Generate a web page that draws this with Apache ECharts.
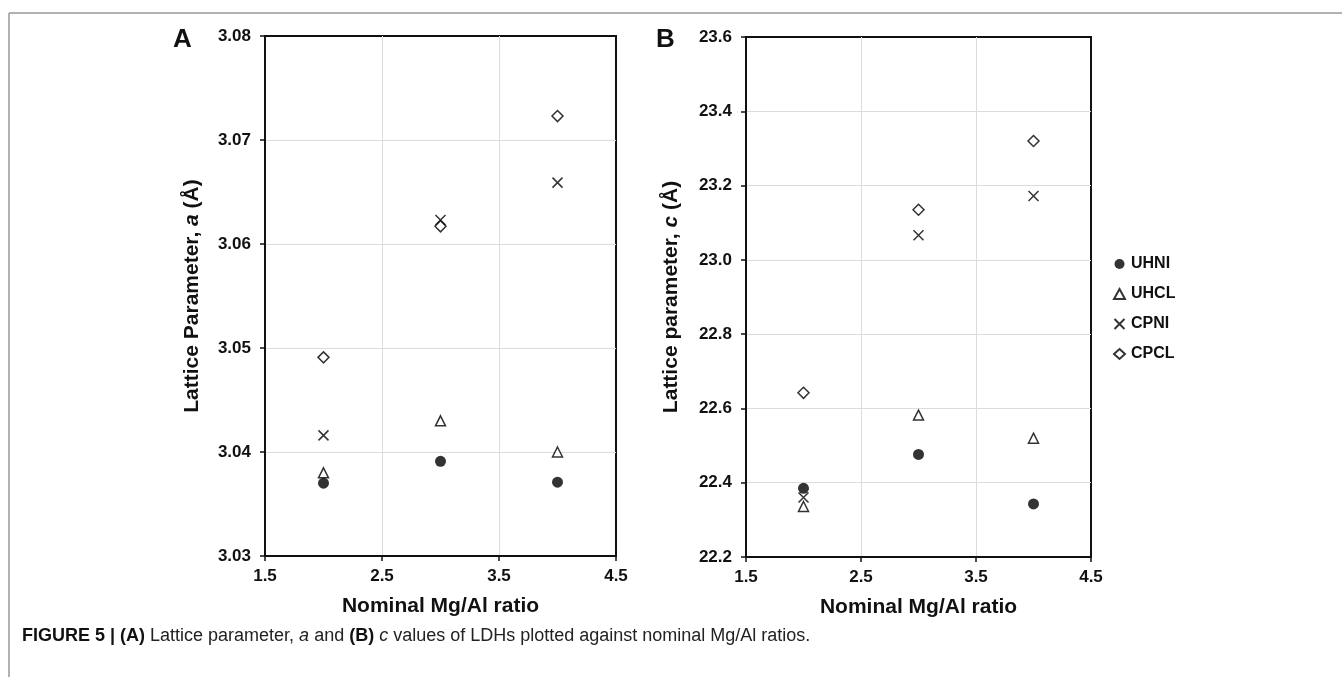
<!DOCTYPE html>
<html>
<head>
<meta charset="utf-8">
<title>Figure 5</title>
<script src="https://cdn.jsdelivr.net/npm/echarts@6/dist/echarts.min.js"></script>
<style>
  html, body { margin: 0; padding: 0; background: #fff; }
  #chart { width: 1342px; height: 677px; }
</style>
</head>
<body>
<div id="chart"></div>
<script>
  // Mg/Al ratios
  const ratios = [2, 3, 4]
  const seriesNames = ['UHNI', 'UHCL', 'CPNI', 'CPCL']

  // panel A: lattice parameter a (Å)
  const aUHNI = [3.0370, 3.0391, 3.0371]
  const aUHCL = [3.0380, 3.0430, 3.0400]
  const aCPNI = [3.0416, 3.0623, 3.0659]
  const aCPCL = [3.0491, 3.0617, 3.0723]

  // panel B: lattice parameter c (Å)
  const cUHNI = [22.385, 22.476, 22.343]
  const cUHCL = [22.336, 22.582, 22.520]
  const cCPNI = [22.360, 23.066, 23.172]
  const cCPCL = [22.642, 23.135, 23.320]

  const aTicks = ['3.03', '3.04', '3.05', '3.06', '3.07', '3.08']
  const cTicks = ['22.2', '22.4', '22.6', '22.8', '23.0', '23.2', '23.4', '23.6']
  const xTicks = ['1.5', '2.5', '3.5', '4.5']

  const FONT = '"Liberation Sans", Arial, sans-serif'
  const crossPath = 'path://M0,0 L10,10 M10,0 L0,10'

  const markers = {
    UHNI: { symbol: 'circle', symbolSize: 11, itemStyle: { color: '#000', borderWidth: 0 } },
    UHCL: { symbol: 'triangle', symbolSize: 10, itemStyle: { color: '#fff', borderColor: '#000', borderWidth: 1.5 } },
    CPNI: { symbol: crossPath, symbolSize: 10, itemStyle: { color: 'none', borderColor: '#000', borderWidth: 1.5 } },
    CPCL: { symbol: 'diamond', symbolSize: 11, itemStyle: { color: '#fff', borderColor: '#000', borderWidth: 1.5 } }
  }

  function pairs(values) {
    return ratios.map((r, i) => [r, values[i]])
  }

  function makeSeries(name, values, idx) {
    return Object.assign({
      name: name,
      type: 'scatter',
      xAxisIndex: idx,
      yAxisIndex: idx,
      data: pairs(values),
      z: 5
    }, markers[name])
  }

  function xAxisOf(idx) {
    return {
      gridIndex: idx,
      type: 'value',
      min: Number(xTicks[0]),
      max: Number(xTicks[xTicks.length - 1]),
      interval: 1,
      name: 'Nominal Mg/Al ratio',
      nameLocation: 'middle',
      nameGap: 40,
      nameTextStyle: { fontFamily: FONT, fontWeight: 'bold', fontSize: 21, color: '#111' },
      axisLine: { lineStyle: { color: '#111', width: 2 } },
      axisTick: { show: true, length: 5, lineStyle: { color: '#111', width: 1.5 } },
      axisLabel: { fontFamily: FONT, fontWeight: 'bold', fontSize: 17, color: '#111', margin: 12,
        formatter: v => v.toFixed(1) },
      splitLine: { show: true, showMinLine: false, showMaxLine: false, lineStyle: { color: '#dcdcdc', width: 1 } }
    }
  }

  function yAxisOf(idx, ticks, step, digits, label, gap) {
    return {
      gridIndex: idx,
      type: 'value',
      min: Number(ticks[0]),
      max: Number(ticks[ticks.length - 1]),
      interval: step,
      name: label,
      nameLocation: 'middle',
      nameRotate: 90,
      nameGap: gap,
      nameTextStyle: {
        fontFamily: FONT, fontWeight: 'bold', fontSize: 21, color: '#111',
        rich: {
          i: { fontFamily: FONT, fontWeight: 'bold', fontStyle: 'italic', fontSize: 21, color: '#111' }
        }
      },
      axisLine: { lineStyle: { color: '#111', width: 2 } },
      axisTick: { show: true, length: 5, lineStyle: { color: '#111', width: 1.5 } },
      axisLabel: { fontFamily: FONT, fontWeight: 'bold', fontSize: 17, color: '#111', margin: 14,
        formatter: v => v.toFixed(digits) },
      splitLine: { show: true, showMinLine: false, showMaxLine: false, lineStyle: { color: '#dcdcdc', width: 1 } }
    }
  }

  const chart = echarts.init(document.getElementById('chart'), null, { renderer: 'canvas' })

  const option = {
    backgroundColor: '#fff',
    animation: false,
    grid: [
      { left: 265, top: 36, width: 351, height: 520, show: true, borderColor: '#111', borderWidth: 2, backgroundColor: '#fff' },
      { left: 746, top: 37, width: 345, height: 520, show: true, borderColor: '#111', borderWidth: 2, backgroundColor: '#fff' }
    ],
    xAxis: [xAxisOf(0), xAxisOf(1)],
    yAxis: [
      yAxisOf(0, aTicks, 0.01, 2, 'Lattice Parameter, {i|a} (Å)', 62),
      yAxisOf(1, cTicks, 0.2, 1, 'Lattice parameter, {i|c} (Å)', 64)
    ],
    legend: {
      data: seriesNames,
      orient: 'vertical',
      left: 1107,
      top: 251,
      itemWidth: 11,
      itemHeight: 10,
      itemGap: 14,
      textStyle: { fontFamily: FONT, fontWeight: 'bold', fontSize: 16, color: '#111', padding: [0, 0, 0, 1] }
    },
    series: [
      makeSeries('UHNI', aUHNI, 0),
      makeSeries('UHCL', aUHCL, 0),
      makeSeries('CPNI', aCPNI, 0),
      makeSeries('CPCL', aCPCL, 0),
      makeSeries('UHNI', cUHNI, 1),
      makeSeries('UHCL', cUHCL, 1),
      makeSeries('CPNI', cCPNI, 1),
      makeSeries('CPCL', cCPCL, 1)
    ],
    graphic: [
      { type: 'line', shape: { x1: 9, y1: 13, x2: 1342, y2: 13 }, style: { stroke: '#999', lineWidth: 1.5 } },
      { type: 'line', shape: { x1: 9, y1: 13, x2: 9, y2: 677 }, style: { stroke: '#999', lineWidth: 1.5 } },
      { type: 'text', left: 173, top: 27, style: { text: 'A', font: 'bold 26px ' + FONT, fill: '#111' } },
      { type: 'text', left: 656, top: 27, style: { text: 'B', font: 'bold 26px ' + FONT, fill: '#111' } },
      {
        type: 'text', left: 22, top: 627,
        style: {
          text: '{b|FIGURE 5 | (A)} Lattice parameter, {i|a} and {b|(B)} {i|c} values of LDHs plotted against nominal Mg/Al ratios.',
          font: '18px ' + FONT,
          fill: '#222',
          rich: {
            b: { font: 'bold 18px ' + FONT, fill: '#111' },
            i: { font: 'italic 18px ' + FONT, fill: '#222' }
          }
        }
      }
    ]
  }

  chart.setOption(option)
</script>
</body>
</html>
